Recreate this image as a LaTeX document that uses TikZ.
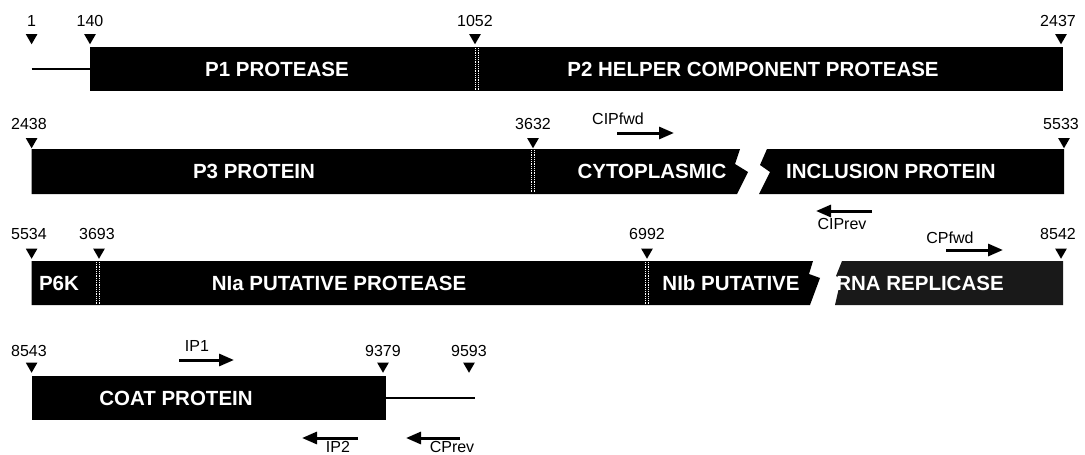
\documentclass[tikz,border=0pt]{standalone}
\usepackage{fontspec}
\setmainfont{Liberation Sans}
\usetikzlibrary{arrows.meta,shapes.geometric}
\tikzset{
  gbox/.style={fill=black, draw=none, inner sep=0pt, outer sep=0pt},
  blab/.style={text=white, font=\bfseries\fontsize{20.5}{24}\selectfont, anchor=base, inner sep=0pt},
  nlab/.style={font=\fontsize{16}{19}\selectfont, anchor=base, inner sep=0pt},
  plab/.style={font=\fontsize{16}{19}\selectfont, anchor=base, inner sep=0pt},
  tri/.style={regular polygon, regular polygon sides=3, shape border rotate=180, fill=black, inner sep=0pt, minimum size=13.5pt},
  divider/.style={white, line width=0.8pt, densely dotted},
  utr/.style={line width=2pt},
  primer/.style={line width=3pt, -{Triangle[length=15pt,width=12pt]}}
}
\begin{document}
\begin{tikzpicture}[x=1pt,y=-1pt]
\useasboundingbox (0,0) rectangle (1085,455);

% ---------- Row 1 ----------
\coordinate (u5) at (31.6,69);
\node[gbox, anchor=north west, minimum width=973.5pt, minimum height=44pt] (r1) at (89.5,47) {};
\draw[utr] (u5) -- (u5 -| r1.west);
\draw[divider] (475.5,48) -- (475.5,90);
\draw[divider] (478.5,48) -- (478.5,90);
\node[blab] (p1) at (277,76.3) {P1 PROTEASE};
\node[blab] (p2) at (753,76.3) {P2 HELPER COMPONENT PROTEASE};

\node[tri] (ta1) at (31.6,37.5) {};
\node[tri] (ta2) at (90,37.5) {};
\node[tri] (ta3) at (475,37.5) {};
\node[tri] (ta4) at (1061,37.5) {};
\node[nlab] (na1) at (31.6,26) {1};
\node[nlab] (na2) at (90,26) {140};
\node[nlab] (na3) at (475,26) {1052};
\node[nlab] (na4) at (1058,26) {2437};

% ---------- Row 2 ----------
\fill[black] (31.6,149) -- (740,149) -- (735,164) -- (748,172) -- (737,194) -- (31.6,194) -- cycle;
\fill[black] (767,149) -- (1064,149) -- (1064,194) -- (759,194) -- (770,172) -- (760,165) -- cycle;
\draw[divider] (531.5,150) -- (531.5,193);
\draw[divider] (534.5,150) -- (534.5,193);
\node[blab] (p3) at (254,178.8) {P3 PROTEIN};
\node[blab] (ci1) at (652,178.8) {CYTOPLASMIC};
\node[blab] (ci2) at (891,178.8) {INCLUSION PROTEIN};

\node[tri] (tb1) at (31.6,141.5) {};
\node[tri] (tb2) at (533,141.5) {};
\node[tri] (tb3) at (1064,141.5) {};
\node[nlab] (nb1) at (29,129) {2438};
\node[nlab] (nb2) at (533,129) {3632};
\node[nlab] (nb3) at (1061,129) {5533};

\coordinate (cf1) at (617,133);
\coordinate (cf2) at (674,133);
\draw[primer] (cf1) -- (cf2);
\node[plab] (cfl) at (618,124) {CIPfwd};
\coordinate (cr1) at (872,211);
\coordinate (cr2) at (816,211);
\draw[primer] (cr1) -- (cr2);
\node[plab] (crl) at (842,229) {CIPrev};

% ---------- Row 3 ----------
\fill[black] (31.6,261) -- (813,261) -- (809,274) -- (820,278) -- (810,305) -- (31.6,305) -- cycle;
\fill[black!90] (842,261) -- (1063,261) -- (1063,305) -- (835,305) -- (841,279) -- (836,276) -- cycle;
\draw[divider] (96.5,262) -- (96.5,304);
\draw[divider] (99.5,262) -- (99.5,304);
\draw[divider] (645.5,262) -- (645.5,304);
\draw[divider] (648.5,262) -- (648.5,304);
\node[blab] (p6) at (59,290.3) {P6K};
\node[blab] (nia) at (339,290.3) {NIa PUTATIVE PROTEASE};
\node[blab] (nib) at (731,290.3) {NIb PUTATIVE};
\node[blab] (rna) at (920,290.3) {RNA REPLICASE};

\node[tri] (tc1) at (31.6,252) {};
\node[tri] (tc2) at (99,252) {};
\node[tri] (tc3) at (647,252) {};
\node[tri] (tc4) at (1061,252) {};
\node[nlab] (nc1) at (29,239) {5534};
\node[nlab] (nc2) at (97,239) {3693};
\node[nlab] (nc3) at (647,239) {6992};
\node[nlab] (nc4) at (1058,239) {8542};

\coordinate (pf1) at (946,250);
\coordinate (pf2) at (1003,250);
\draw[primer] (pf1) -- (pf2);
\node[plab] (pfl) at (950,243) {CPfwd};

% ---------- Row 4 ----------
\node[gbox, anchor=north west, minimum width=354.4pt, minimum height=44pt] (r4) at (31.6,376) {};
\coordinate (u3) at (475,398);
\draw[utr] (r4.east |- u3) -- (u3);
\node[blab] (cp) at (176,405.3) {COAT PROTEIN};

\node[tri] (td1) at (31.6,366) {};
\node[tri] (td2) at (383,366) {};
\node[tri] (td3) at (469,366) {};
\node[nlab] (nd1) at (29,356) {8543};
\node[nlab] (nd2) at (383,356) {9379};
\node[nlab] (nd3) at (469,356) {9593};

\coordinate (i1a) at (179,360);
\coordinate (i1b) at (234,360);
\draw[primer] (i1a) -- (i1b);
\node[plab] (i1l) at (197,351) {IP1};
\coordinate (i2a) at (358,438);
\coordinate (i2b) at (302,438);
\draw[primer] (i2a) -- (i2b);
\node[plab] (i2l) at (338,452) {IP2};
\coordinate (cpa) at (460,438);
\coordinate (cpb) at (406,438);
\draw[primer] (cpa) -- (cpb);
\node[plab] (cpl) at (452,452) {CPrev};
\end{tikzpicture}
\end{document}
